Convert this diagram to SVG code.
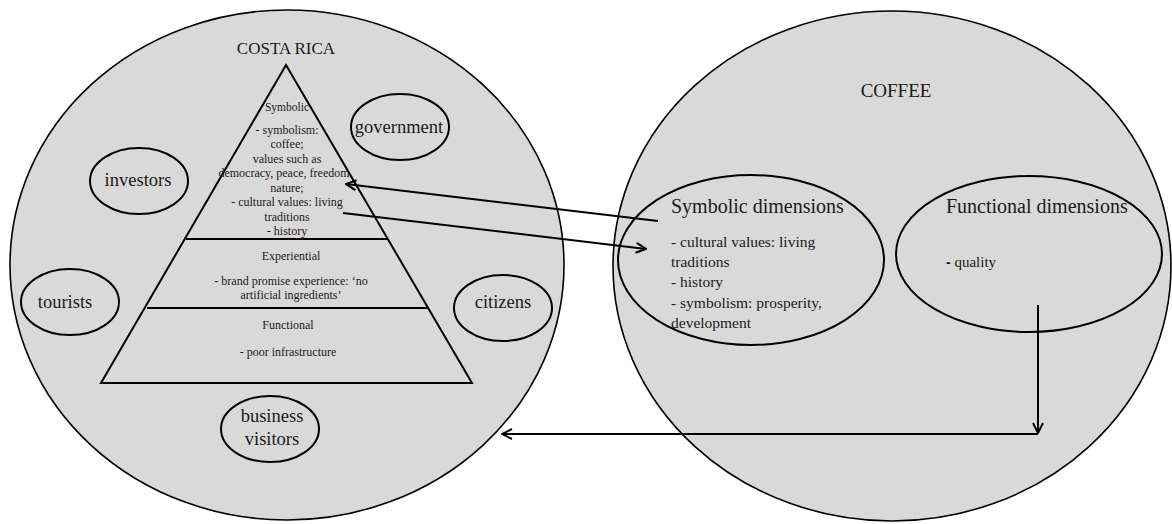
<svg xmlns="http://www.w3.org/2000/svg" width="1172" height="524" viewBox="0 0 1172 524">
<style>
.big{fill:#d9d9d9;stroke:#000;stroke-width:1.6}
.el{fill:#d9d9d9;stroke:#000;stroke-width:2}
.ln{fill:none;stroke:#000;stroke-width:2}
text{font-family:"Liberation Serif","Times New Roman",serif;fill:#1a1a1a}
.c{text-anchor:middle}
.s{font-size:12px}
.m{font-size:15.5px}
.l{font-size:18.5px}
.h{font-size:20px}
</style>
<defs>
<marker id="a" viewBox="0 0 12 12" refX="11" refY="6" markerWidth="12" markerHeight="12" markerUnits="userSpaceOnUse" orient="auto">
<path d="M1,1 L11,6 L1,11" fill="none" stroke="#000" stroke-width="2"/>
</marker>
</defs>
<rect width="1172" height="524" fill="#fff"/>
<g id="costa-rica">
<ellipse class="big" cx="287" cy="265" rx="277" ry="255"/>
<text class="c" x="286" y="54" style="font-size:17px">COSTA RICA</text>
</g>
<g id="coffee">
<ellipse class="big" cx="892" cy="266" rx="279" ry="255"/>
<text class="c" x="896" y="97" style="font-size:19px">COFFEE</text>
</g>
<g id="pyramid">
<path class="ln" d="M286,65 L101,383 L472,383 Z"/>
<line class="ln" x1="186" y1="239" x2="387" y2="239"/>
<line class="ln" x1="147" y1="308" x2="427" y2="308"/>
<text class="c" x="287" y="111" style="font-size:11.5px">Symbolic</text>
<text class="c s" x="287" y="134">- symbolism:</text>
<text class="c s" x="287" y="148">coffee;</text>
<text class="c s" x="287" y="163">values such as</text>
<text class="c s" x="284" y="177">democracy, peace, freedom</text>
<text class="c s" x="287" y="192">nature;</text>
<text class="c s" x="287" y="206">- cultural values: living</text>
<text class="c s" x="287" y="221">traditions</text>
<text class="c s" x="287" y="235">- history</text>
<text class="c s" x="291" y="260">Experiential</text>
<text class="c s" x="291" y="285">- brand promise experience: ‘no</text>
<text class="c s" x="291" y="299">artificial ingredients’</text>
<text class="c s" x="288" y="329">Functional</text>
<text class="c s" x="288" y="356">- poor infrastructure</text>
</g>
<g id="government">
<ellipse class="el" cx="400" cy="127" rx="49" ry="33"/>
<text class="c l" x="399" y="133">government</text>
</g>
<g id="investors">
<ellipse class="el" cx="139" cy="181" rx="49" ry="33"/>
<text class="c l" x="138" y="186">investors</text>
</g>
<g id="tourists">
<ellipse class="el" cx="70" cy="302" rx="49" ry="33"/>
<text class="c l" x="65" y="308">tourists</text>
</g>
<g id="citizens">
<ellipse class="el" cx="503" cy="308" rx="49" ry="33"/>
<text class="c l" x="503" y="308">citizens</text>
</g>
<g id="business-visitors">
<ellipse class="el" cx="270" cy="429" rx="49" ry="33"/>
<text class="c l" x="272" y="422">business</text>
<text class="c l" x="272" y="445">visitors</text>
</g>
<g id="symbolic-dimensions">
<ellipse class="el" cx="751" cy="260" rx="133" ry="85"/>
<text class="h" x="671" y="213">Symbolic dimensions</text>
<text class="m" x="671" y="247">- cultural values: living</text>
<text class="m" x="671" y="267">traditions</text>
<text class="m" x="671" y="287">- history</text>
<text class="m" x="671" y="308">- symbolism: prosperity,</text>
<text class="m" x="671" y="328">development</text>
</g>
<g id="functional-dimensions">
<ellipse class="el" cx="1029" cy="254" rx="133" ry="78"/>
<text class="h" x="946" y="213">Functional dimensions</text>
<text x="946" y="267" style="font-size:15px"><tspan style="font-family:'Liberation Sans',Arial,sans-serif;font-weight:bold;font-size:14px">-</tspan> quality</text>
</g>
<g id="connectors">
<line class="ln" x1="658" y1="221" x2="346" y2="184" marker-end="url(#a)"/>
<line class="ln" x1="343" y1="213" x2="646" y2="249" marker-end="url(#a)"/>
<line class="ln" x1="1038" y1="305" x2="1038" y2="433" marker-end="url(#a)"/>
<line class="ln" x1="1038" y1="434" x2="502" y2="434" marker-end="url(#a)"/>
</g>
</svg>
